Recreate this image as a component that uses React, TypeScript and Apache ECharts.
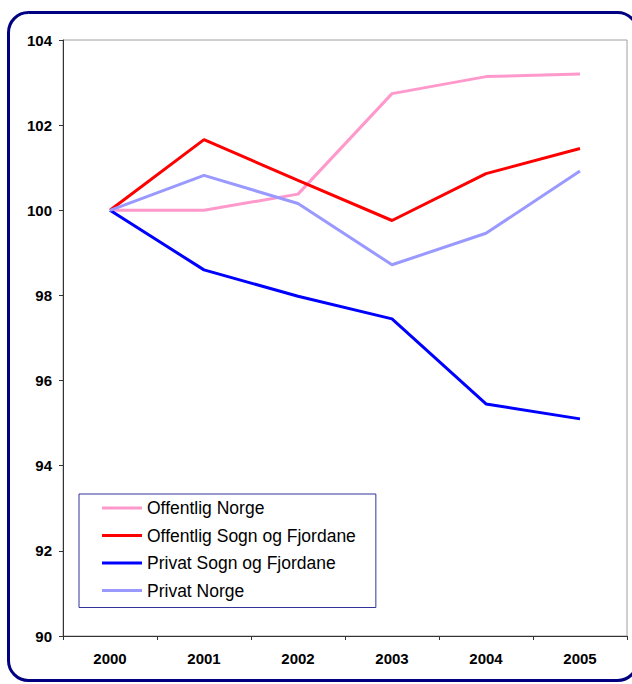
import React, { useEffect, useRef } from "react";
import * as echarts from "echarts";

const years = ["2000", "2001", "2002", "2003", "2004", "2005"];
const offentligNorge = [100, 100, 100.38, 102.74, 103.14, 103.2];
const offentligSogn = [100, 101.66, 100.7, 99.76, 100.86, 101.45];
const privatSogn = [100, 98.6, 97.98, 97.45, 95.45, 95.1];
const privatNorge = [100, 100.82, 100.16, 98.72, 99.46, 100.92];

const seriesNames = [
  "Offentlig Norge",
  "Offentlig Sogn og Fjordane",
  "Privat Sogn og Fjordane",
  "Privat Norge",
];
const seriesColors = ["#FF99CC", "#FF0000", "#0000FF", "#9999FF"];
const seriesData = [offentligNorge, offentligSogn, privatSogn, privatNorge];

export default function App() {
  const ref = useRef<HTMLDivElement>(null);
  useEffect(() => {
    if (!ref.current) return;
    const chart = echarts.init(ref.current, undefined, { renderer: "svg" });
    const font = "'Liberation Sans', Arial, sans-serif";
    chart.setOption({
      animation: false,
      backgroundColor: "#fff",
      textStyle: { fontFamily: font },
      grid: {
        left: 63,
        top: 40,
        right: 5,
        bottom: 48,
        show: true,
        borderColor: "#A0A0A0",
        borderWidth: 1,
        backgroundColor: "transparent",
      },
      graphic: [
        {
          type: "rect",
          shape: { x: 8.5, y: 12.5, width: 629, height: 668, r: 20 },
          style: { fill: "none", stroke: "#000080", lineWidth: 3 },
          silent: true,
        },
      ],
      legend: {
        orient: "vertical",
        left: 79,
        top: 494,
        padding: [5, 20, 8, 23],
        itemGap: 9.5,
        itemWidth: 40,
        itemHeight: 3,
        icon: "rect",
        borderColor: "#333399",
        borderWidth: 1,
        borderRadius: 0,
        backgroundColor: "#fff",
        textStyle: { fontSize: 17.5, color: "#000", fontFamily: font, padding: [0, 0, 0, 0] },
        data: seriesNames,
      },
      xAxis: {
        type: "category",
        data: years,
        boundaryGap: true,
        axisLine: { lineStyle: { color: "#333", width: 1 } },
        axisTick: { show: true, inside: false, length: 4, alignWithLabel: false, lineStyle: { color: "#333" } },
        axisLabel: { fontSize: 15, fontWeight: "bold", color: "#000", margin: 15, fontFamily: font },
        splitLine: { show: false },
      },
      yAxis: {
        type: "value",
        min: 90,
        max: 104,
        interval: 2,
        axisLine: { show: true, lineStyle: { color: "#333", width: 1 } },
        axisTick: { show: true, inside: false, length: 4, lineStyle: { color: "#333" } },
        axisLabel: { fontSize: 15, fontWeight: "bold", color: "#000", margin: 11, fontFamily: font },
        splitLine: { show: false },
      },
      series: seriesNames.map((name, i) => ({
        name,
        type: "line",
        data: seriesData[i],
        showSymbol: false,
        symbol: "none",
        color: seriesColors[i],
        lineStyle: { color: seriesColors[i], width: 3 },
        z: 2,
      })),
    });
    return () => chart.dispose();
  }, []);
  return (
    <div
      ref={ref}
      style={{ position: "absolute", left: 0, top: 0, width: 632, height: 684 }}
    />
  );
}
